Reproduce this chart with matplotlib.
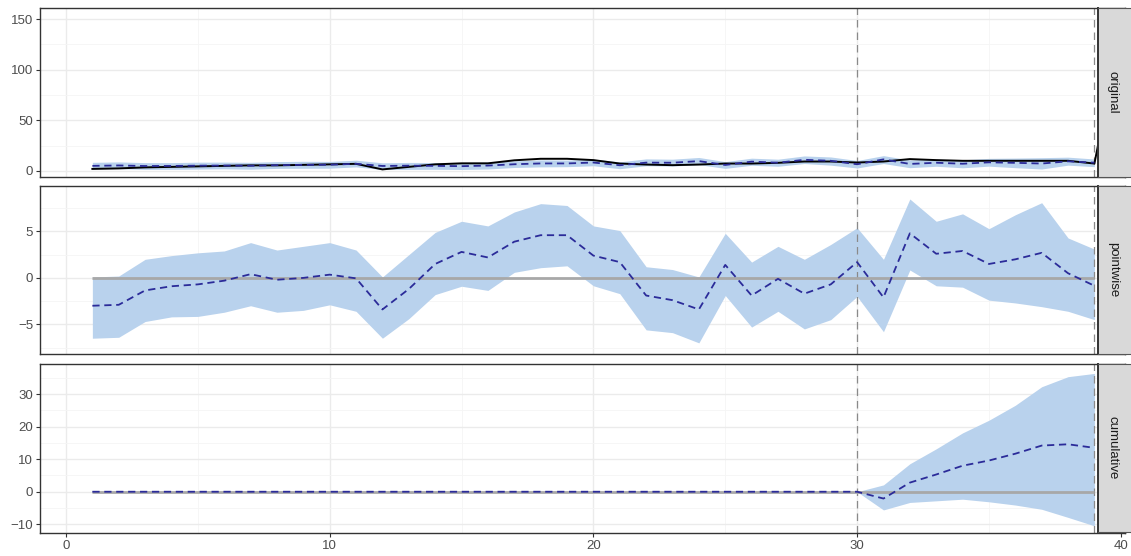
import numpy as np
import matplotlib
matplotlib.use('Agg')
import matplotlib.pyplot as plt

FIG_W, FIG_H = 1131, 556

PANEL_NAMES = ('original', 'pointwise', 'cumulative')
X_TICKS = [0, 10, 20, 30, 40]
X_MINOR = [5, 15, 25, 35]
VLINES = [30, 39]

# observed series (last point lies beyond the visible panel)
observed = [2.0, 2.5, 3.5, 4.0, 4.5, 5.0, 5.5, 5.5, 6.0, 6.5, 7.0, 1.5, 4.0,
            6.5, 7.5, 7.5, 10.5, 12.0, 12.0, 10.7, 7.3, 6.3, 5.7, 6.3, 7.3,
            7.3, 8.0, 9.3, 9.3, 8.3, 9.3, 11.7, 10.7, 10.0, 10.0, 10.0, 10.0,
            10.0, 7.3, 140.0]
predicted = [5.0, 5.4, 4.85, 4.9, 5.2, 5.3, 5.1, 5.7, 6.0, 6.15, 7.05, 4.9,
             5.2, 5.0, 4.7, 5.3, 6.6, 7.4, 7.4, 8.3, 5.6, 8.2, 8.1, 9.7, 5.9,
             9.2, 8.1, 11.0, 10.0, 6.6, 11.4, 6.9, 8.1, 7.1, 8.5, 8.0, 7.3,
             9.5, 8.15]
pred_lower = [1.9, 2.3, 1.5, 1.6, 1.8, 2.1, 1.7, 2.5, 2.6, 2.7, 4.0, 1.4, 1.5,
              1.6, 1.4, 1.9, 3.4, 4.0, 4.2, 5.1, 2.2, 5.1, 4.8, 6.2, 2.5, 5.6,
              4.6, 7.3, 5.7, 2.9, 7.3, 3.2, 4.6, 3.1, 4.7, 3.2, 1.9, 5.7, 4.2]
pred_upper = [8.5, 8.9, 8.2, 8.2, 8.65, 8.7, 8.5, 9.2, 9.5, 9.4, 10.6, 8.0,
              8.4, 8.3, 8.4, 8.85, 9.9, 10.9, 10.7, 11.55, 9.0, 11.9, 11.6,
              13.3, 9.2, 12.6, 11.6, 14.8, 13.8, 10.3, 15.1, 10.85, 11.55,
              11.0, 12.4, 12.7, 13.1, 13.6, 11.8]

point_mean = [-3.0, -2.9, -1.35, -0.9, -0.7, -0.3, 0.4, -0.2, 0.0, 0.35,
              -0.05, -3.4, -1.2, 1.5, 2.8, 2.2, 3.9, 4.6, 4.6, 2.4, 1.7, -1.9,
              -2.4, -3.4, 1.4, -1.9, -0.1, -1.7, -0.7, 1.7, -2.1, 4.8, 2.6,
              2.9, 1.5, 2.0, 2.7, 0.5, -0.85]
point_lower = [-6.5, -6.4, -4.7, -4.2, -4.15, -3.7, -3.0, -3.7, -3.5, -2.9,
               -3.6, -6.5, -4.4, -1.8, -0.9, -1.35, 0.6, 1.1, 1.3, -0.85,
               -1.7, -5.6, -5.9, -7.0, -1.9, -5.3, -3.6, -5.5, -4.5, -2.0,
               -5.8, 0.85, -0.85, -1.0, -2.4, -2.7, -3.1, -3.6, -4.5]
point_upper = [0.1, 0.2, 2.0, 2.4, 2.7, 2.9, 3.8, 3.0, 3.4, 3.8, 3.0, 0.1,
               2.5, 4.9, 6.1, 5.6, 7.1, 8.0, 7.8, 5.6, 5.1, 1.2, 0.9, 0.1,
               4.8, 1.7, 3.4, 2.0, 3.6, 5.4, 2.0, 8.5, 6.1, 6.9, 5.3, 6.8,
               8.1, 4.3, 3.1]

cum_mean = [0.0] * 30 + [-2.1, 2.8, 5.3, 8.0, 9.6, 11.7, 14.2, 14.6, 13.5]
cum_lower = [0.0] * 30 + [-5.6, -3.3, -2.8, -2.3, -3.1, -4.1, -5.4, -7.9,
                          -10.5]
cum_upper = [0.0] * 30 + [2.1, 8.6, 13.2, 18.1, 22.0, 26.6, 32.3, 35.4, 36.4]

Y_TICKS = ([0, 50, 100, 150], [-5, 0, 5], [-10, 0, 10, 20, 30])
Y_MINOR = ([25, 75, 125], [-7.5, -2.5, 2.5, 7.5], [-5, 5, 15, 25, 35])
Y_LIMS = ((-6, 161), (-8.2, 9.9), (-12.7, 39.3))

# panel rows in pixels (top, bottom)
ROWS = ((8, 177), (186, 354), (364, 533))
STRIP_ROWS = ((8, 177), (186, 354), (364, 531.5))
X_LIMS = ((40 - 66) / 26.37, (1125 - 66) / 26.37)

BAND = '#b9d2ed'
PRED = '#2b2b99'
BORDER = '#333333'


def px_rect(left, top, right, bottom):
    return [left / FIG_W, 1 - bottom / FIG_H,
            (right - left) / FIG_W, (bottom - top) / FIG_H]


def main():
    plt.rcParams['font.family'] = ['Liberation Sans', 'DejaVu Sans']
    fig = plt.figure(figsize=(FIG_W / 100, FIG_H / 100), dpi=100)

    x = np.arange(1, len(predicted) + 1)
    x_obs = np.arange(1, len(observed) + 1)

    axes = [fig.add_axes(px_rect(40, top, 1125, bottom))
            for top, bottom in ROWS]

    series = (
        (predicted, pred_lower, pred_upper),
        (point_mean, point_lower, point_upper),
        (cum_mean, cum_lower, cum_upper),
    )

    for i, ax in enumerate(axes):
        mean, lo, hi = series[i]
        ax.fill_between(x, lo, hi, color=BAND, lw=0, zorder=1)
        for v in VLINES:
            ax.axvline(v, color='#8a8a8a', lw=0.9, dashes=(6, 4), zorder=2)
        if i > 0:
            ax.plot([x[0], x[-1]], [0, 0], color='#a8a8a8', lw=2.0,
                    solid_capstyle='butt', zorder=2)
        if i == 0:
            ax.plot(x_obs, observed, color='black', lw=1.4, zorder=3)
        ax.plot(x, mean, color=PRED, lw=1.3, dashes=(4, 2.6), zorder=4)

        ax.set_xlim(*X_LIMS)
        ax.set_ylim(*Y_LIMS[i])
        ax.set_xticks(X_TICKS)
        ax.set_xticks(X_MINOR, minor=True)
        ax.set_yticks(Y_TICKS[i])
        ax.set_yticks(Y_MINOR[i], minor=True)
        ax.grid(which='major', color='#ebebeb', lw=1.0)
        ax.grid(which='minor', color='#f5f5f5', lw=0.6)
        ax.set_axisbelow(True)
        for sp in ax.spines.values():
            sp.set_color(BORDER)
            sp.set_linewidth(1.0)
        ax.tick_params(which='minor', length=0)
        ax.tick_params(which='major', length=3, width=0.8, color=BORDER,
                       labelcolor='#4d4d4d', labelsize=9.5, pad=2)
        if i < 2:
            ax.tick_params(axis='x', which='both', bottom=False,
                           labelbottom=False)

        # facet strip on the right
        top, bottom = STRIP_ROWS[i]
        strip = fig.add_axes(px_rect(1098, top, 1133, bottom))
        strip.set_facecolor('#d9d9d9')
        strip.set_xticks([])
        strip.set_yticks([])
        for sp in strip.spines.values():
            sp.set_color('#555555')
            sp.set_linewidth(0.8)
        strip.spines['left'].set_color(BORDER)
        strip.spines['left'].set_linewidth(1.4)
        strip.text(0.42, 0.5, PANEL_NAMES[i], rotation=270, ha='center',
                   va='center', fontsize=9.5, color='#1a1a1a',
                   transform=strip.transAxes)

    fig.savefig('out.png', dpi=100)


if __name__ == '__main__':
    main()
